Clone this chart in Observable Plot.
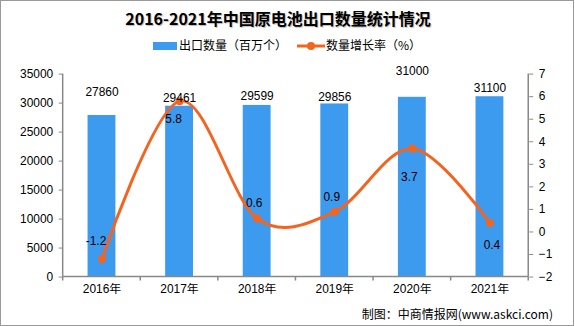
<!DOCTYPE html>
<html>
<head>
<meta charset="utf-8">
<script src="https://cdn.jsdelivr.net/npm/d3@7"></script>
<script src="https://cdn.jsdelivr.net/npm/@observablehq/plot@0.6"></script>
<style>
  body { margin: 0; background: #fff; }
  #wrap { position: relative; width: 574px; height: 326px; box-sizing: border-box; border: 1px solid #999; overflow: hidden;
          font-family: "Liberation Sans", "Noto Sans CJK SC", sans-serif; color: #000; }
  #title { position: absolute; top: 5px; left: 0; width: 554px; text-align: center; font-size: 16px; font-weight: bold;
           font-family: "Noto Sans CJK SC", sans-serif; text-shadow: 1px 1px 1px #bbb; }
  #legend { position: absolute; top: 37px; left: 0; font-size: 12px; font-family: "Noto Sans CJK SC", sans-serif; }
  .li { position: absolute; white-space: nowrap; top: 0; }
  #caption { position: absolute; right: 20px; top: 304px; font-size: 12px; font-family: "Noto Sans CJK SC", sans-serif; white-space: nowrap; }
  #chart { position: absolute; left: 0; top: 0; }
</style>
</head>
<body>
<div id="wrap">
  <div id="chart"></div>
  <div id="title"></div>
  <div id="legend"></div>
  <div id="caption"></div>
</div>
<script>
const titleText = "2016-2021年中国原电池出口数量统计情况";
const seriesNames = ["出口数量（百万个）", "数量增长率（%）"];
const captionText = "制图：中商情报网(www.askci.com)";
const years = ["2016年", "2017年", "2018年", "2019年", "2020年", "2021年"];
const exportQty = [27860, 29461, 29599, 29856, 31000, 31100];
const growthRate = [-1.2, 5.8, 0.6, 0.9, 3.7, 0.4];
const leftTicks = [0, 5000, 10000, 15000, 20000, 25000, 30000, 35000];
const rightTicks = [-2, -1, 0, 1, 2, 3, 4, 5, 6, 7];

const barColor = "#3d9bef";
const lineColor = "#f5641f";
const axisColor = "#888";

const data = years.map((y, i) => ({year: y, qty: exportQty[i], g: growthRate[i], i}));

// map right-axis values onto left domain
const rMin = -2, rMax = 7, lMax = 35000;
const toY = v => (v - rMin) / (rMax - rMin) * lMax;
const fromY = y => Math.round(y / lMax * (rMax - rMin) + rMin);
const fmtR = v => (v < 0 ? "\u2212" + Math.abs(v) : String(v));

// label offsets (pixels) for individual labels, as in the reference
const qtyDy = [-23, -8, -9, -7, -26, -9];
const gDx = [-6, -6, -3, -3, -3, 2];
const gDy = [-18, 18, -15, -15, 29, 22];

const axisLines = (index, scales, values, dims) => {
  const {width, height, marginLeft, marginRight, marginTop, marginBottom} = dims;
  const g = d3.create("svg:g").attr("stroke", axisColor).attr("stroke-width", 1.5).attr("fill", "none");
  const x0 = marginLeft, x1 = width - marginRight, y0 = marginTop, y1 = height - marginBottom;
  g.append("line").attr("x1", x0).attr("x2", x0).attr("y1", y0).attr("y2", y1);
  g.append("line").attr("x1", x1).attr("x2", x1).attr("y1", y0).attr("y2", y1);
  g.append("line").attr("x1", x0).attr("x2", x1).attr("y1", y1).attr("y2", y1);
  const bw = scales.x.bandwidth ? scales.x.bandwidth() : 0;
  const edges = years.map(d => scales.x(d)).concat([scales.x(years[years.length - 1]) + bw]);
  for (const e of edges) g.append("line").attr("x1", e).attr("x2", e).attr("y1", y1).attr("y2", y1 + 4);
  return g.node();
};

const marks = [
  Plot.barY(data, {x: "year", y: "qty", fill: barColor, insetLeft: 25, insetRight: 25}),
  axisLines,
  Plot.axisY(leftTicks, {anchor: "left", tickSize: 4, tickPadding: 6, stroke: axisColor, fill: "#000", label: null, tickFormat: d => String(d)}),
  Plot.axisY(rightTicks.map(toY), {anchor: "right", tickSize: 4, tickPadding: 6, stroke: axisColor, fill: "#000", label: null, tickFormat: d => fmtR(fromY(d))}),
  Plot.axisX({tickSize: 0, tickPadding: 8, fill: "#000", label: null}),
  Plot.line(data, {x: "year", y: d => toY(d.g), curve: "cardinal", stroke: lineColor, strokeWidth: 3}),
  Plot.dot(data, {x: "year", y: d => toY(d.g), r: 4, fill: lineColor, stroke: null}),
  ...data.map((d, i) => Plot.text([d], {x: "year", y: "qty", text: dd => String(dd.qty), dy: qtyDy[i], fill: "#000"})),
  ...data.map((d, i) => Plot.text([d], {x: "year", y: dd => toY(dd.g), text: dd => dd.g.toFixed(1), dx: gDx[i], dy: gDy[i], fill: "#000"}))
];

const chart = Plot.plot({
  width: 575, height: 326,
  marginTop: 73, marginBottom: 49, marginLeft: 62, marginRight: 45,
  x: {domain: years, padding: 0, axis: null},
  y: {domain: [0, lMax], axis: null},
  style: {fontFamily: "'Liberation Sans', 'Noto Sans CJK SC', sans-serif", fontSize: "12px", background: "transparent", color: "#000"},
  marks
});
document.getElementById("chart").appendChild(chart);

document.getElementById("title").textContent = titleText;
document.getElementById("caption").textContent = captionText;

const legend = document.getElementById("legend");
legend.innerHTML = `
  <div class="li" style="left:152px;top:4px;width:24px;height:8px;background:${barColor}"></div>
  <div class="li" style="left:178px;top:-2px;">${seriesNames[0]}</div>
  <svg class="li" style="left:296px;top:1px" width="28" height="12"><line x1="0" x2="28" y1="7" y2="7" stroke="${lineColor}" stroke-width="3"/><circle cx="14" cy="7" r="4" fill="${lineColor}"/></svg>
  <div class="li" style="left:325px;top:-2px;">${seriesNames[1]}</div>`;
</script>
</body>
</html>
